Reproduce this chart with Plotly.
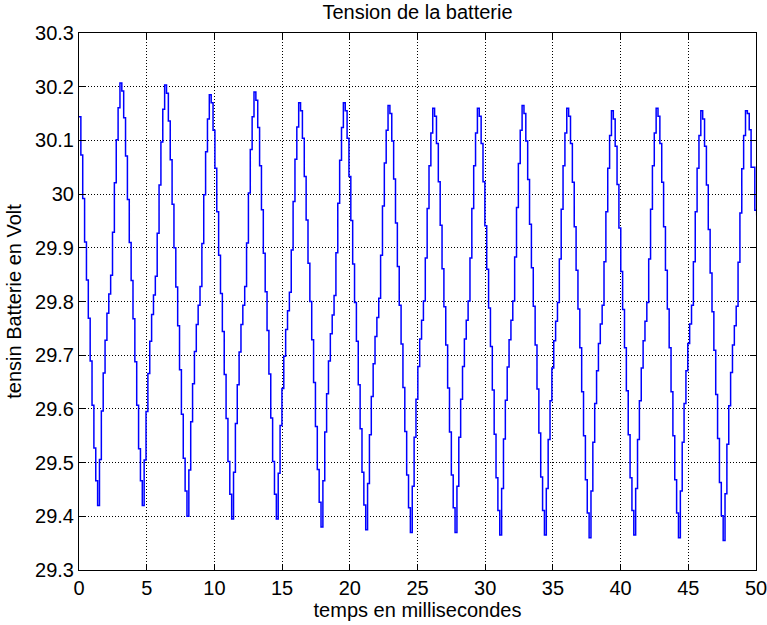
import numpy as np
import plotly.graph_objects as go

# sampling step of the recorded signal (ms)
dt_ms = 0.1375

# battery voltage samples (V), one line per ripple cycle
voltage = [
    30.144, 30.073, 29.992, 29.911, 29.840, 29.769, 29.689, 29.607, 29.527, 29.466,
    29.420, 29.506, 29.596, 29.667, 29.728, 29.778, 29.814, 29.849, 29.929, 30.021, 30.101, 30.161, 30.207, 30.192, 30.142, 30.071, 29.990, 29.910, 29.839, 29.768, 29.688, 29.607, 29.526, 29.466,
    29.420, 29.505, 29.595, 29.666, 29.726, 29.776, 29.812, 29.847, 29.927, 30.017, 30.097, 30.158, 30.203, 30.188, 30.136, 30.064, 29.981, 29.900, 29.827, 29.755, 29.673, 29.590, 29.508, 29.447,
    29.400, 29.486, 29.576, 29.647, 29.707, 29.757, 29.793, 29.828, 29.908, 29.999, 30.079, 30.140, 30.185, 30.170, 30.119, 30.048, 29.967, 29.886, 29.815, 29.744, 29.664, 29.582, 29.502, 29.441,
    29.395, 29.482, 29.573, 29.645, 29.706, 29.757, 29.793, 29.828, 29.909, 30.002, 30.083, 30.144, 30.190, 30.175, 30.124, 30.053, 29.971, 29.890, 29.818, 29.746, 29.665, 29.583, 29.502, 29.441,
    29.395, 29.480, 29.569, 29.638, 29.698, 29.748, 29.783, 29.817, 29.896, 29.986, 30.065, 30.125, 30.170, 30.155, 30.104, 30.033, 29.952, 29.871, 29.800, 29.729, 29.649, 29.567, 29.487, 29.426,
    29.380, 29.466, 29.557, 29.628, 29.689, 29.740, 29.775, 29.811, 29.891, 29.983, 30.063, 30.124, 30.170, 30.155, 30.104, 30.033, 29.951, 29.870, 29.798, 29.726, 29.645, 29.563, 29.482, 29.421,
    29.375, 29.461, 29.552, 29.623, 29.684, 29.735, 29.770, 29.806, 29.886, 29.978, 30.058, 30.119, 30.165, 30.150, 30.099, 30.028, 29.946, 29.865, 29.793, 29.721, 29.640, 29.558, 29.477, 29.416,
    29.370, 29.456, 29.547, 29.618, 29.679, 29.730, 29.765, 29.801, 29.881, 29.973, 30.053, 30.114, 30.160, 30.145, 30.094, 30.023, 29.942, 29.861, 29.790, 29.719, 29.639, 29.557, 29.477, 29.416,
    29.370, 29.456, 29.547, 29.618, 29.679, 29.730, 29.765, 29.801, 29.881, 29.973, 30.053, 30.114, 30.160, 30.145, 30.094, 30.023, 29.941, 29.860, 29.788, 29.716, 29.635, 29.553, 29.472, 29.411,
    29.365, 29.452, 29.544, 29.616, 29.678, 29.729, 29.765, 29.801, 29.883, 29.975, 30.057, 30.119, 30.165, 30.150, 30.099, 30.027, 29.944, 29.863, 29.791, 29.719, 29.637, 29.555, 29.473, 29.411,
    29.365, 29.452, 29.543, 29.615, 29.676, 29.727, 29.763, 29.798, 29.879, 29.972, 30.053, 30.114, 30.160, 30.145, 30.094, 30.022, 29.939, 29.858, 29.786, 29.714, 29.632, 29.550, 29.468, 29.406,
    29.360, 29.447, 29.538, 29.610, 29.671, 29.722, 29.758, 29.793, 29.874, 29.967, 30.048, 30.109, 30.155, 30.140, 30.089, 30.018, 29.937, 29.856, 29.785, 29.714, 29.634, 29.552, 29.472, 29.411,
    29.365, 29.452, 29.543, 29.615, 29.676, 29.727, 29.763, 29.798, 29.879, 29.972, 30.053, 30.114, 30.160, 30.145, 30.094, 30.022, 29.939, 29.858, 29.786, 29.714, 29.632, 29.550, 29.468, 29.406,
    29.360, 29.447, 29.538, 29.610, 29.671, 29.722, 29.758, 29.793, 29.874, 29.967, 30.048, 30.109, 30.155, 30.140, 30.089, 30.017, 29.934, 29.853, 29.781, 29.709, 29.627, 29.545, 29.463, 29.401,
    29.355, 29.442, 29.534, 29.606, 29.668, 29.719, 29.755, 29.791, 29.873, 29.965, 30.047, 30.109, 30.155, 30.150, 30.120, 30.050, 30.050, 29.970, 29.960,
]

x_ticks = [0, 5, 10, 15, 20, 25, 30, 35, 40, 45, 50]
x_tick_labels = ["0", "5", "10", "15", "20", "25", "30", "35", "40", "45", "50"]
y_ticks = [29.3, 29.4, 29.5, 29.6, 29.7, 29.8, 29.9, 30.0, 30.1, 30.2, 30.3]
y_tick_labels = ["29.3", "29.4", "29.5", "29.6", "29.7", "29.8", "29.9", "30", "30.1", "30.2", "30.3"]

time_ms = np.arange(len(voltage)) * dt_ms

FONT = "Liberation Sans, Arial, Helvetica, sans-serif"

fig = go.Figure()
fig.add_trace(go.Scatter(
    x=time_ms, y=voltage, mode="lines",
    line=dict(color="#0000ff", width=1.5, shape="hv"),
    showlegend=False, hoverinfo="skip",
))

axis_common = dict(
    showline=True, linecolor="black", linewidth=1, mirror="ticks",
    ticks="inside", ticklen=6, tickcolor="black", tickwidth=1,
    showgrid=True, gridcolor="black", gridwidth=1, griddash="1px,2px",
    zeroline=False, automargin=False, ticklabeloverflow="allow",
    tickfont=dict(family=FONT, size=20, color="black"),
)

fig.update_layout(
    width=767, height=625,
    paper_bgcolor="white", plot_bgcolor="white",
    margin=dict(l=79, r=11, t=33, b=55),
    title=dict(text="Tension de la batterie", x=0.5, xref="paper", xanchor="center",
               y=1 - 12 / 625, yref="container", yanchor="middle",
               font=dict(family=FONT, size=20, color="black")),
    font=dict(family=FONT, size=20, color="black"),
    xaxis=dict(range=[0, 50], tickvals=x_ticks, ticktext=x_tick_labels,
               title=dict(text="temps en millisecondes", standoff=0,
                          font=dict(family=FONT, size=20, color="black")),
               **axis_common),
    yaxis=dict(range=[29.3, 30.3], tickvals=y_ticks, ticktext=y_tick_labels,
               title=dict(text="tensin Batterie en Volt", standoff=8,
                          font=dict(family=FONT, size=20, color="black")),
               **axis_common),
)

fig.write_html("out.html", config={"displayModeBar": False},
               post_script="document.body.style.margin='0';")
